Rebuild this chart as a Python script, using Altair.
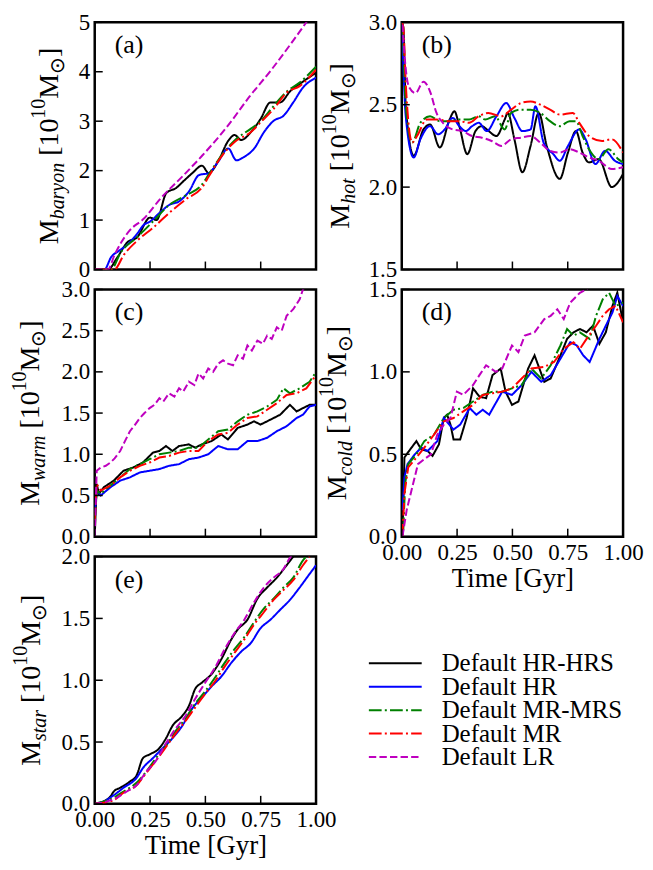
import altair as alt
import pandas as pd

FONT = "Liberation Serif"
SERIES = ["Default HR-HRS", "Default HR", "Default MR-MRS", "Default MR", "Default LR"]
COLORS = ["#000000", "#0000ff", "#008000", "#ff0000", "#bf00bf"]
DASHES = [[1, 0], [1, 0], [12.8, 3.2, 2, 3.2], [12.8, 3.2, 2, 3.2], [7.4, 3.2]]
XTICKS = [0.0, 0.25, 0.5, 0.75, 1.0]

# ---------------- (a) M_baryon ----------------
a_hrhrs_t = [0, 0.059, 0.103, 0.147, 0.191, 0.25, 0.279, 0.324, 0.368, 0.404, 0.441, 0.485, 0.515, 0.559, 0.603, 0.632, 0.662, 0.706, 0.75, 0.794, 0.838, 0.882, 0.941, 1.0]
a_hrhrs_v = [0, 0, 0.25, 0.55, 0.65, 1.05, 1.0, 1.55, 1.65, 1.8, 1.95, 2.1, 1.95, 2.2, 2.6, 2.72, 2.62, 2.78, 3.05, 3.38, 3.38, 3.6, 3.8, 3.98]
a_hr_t = [0, 0.044, 0.074, 0.110, 0.147, 0.191, 0.221, 0.25, 0.294, 0.338, 0.382, 0.426, 0.471, 0.515, 0.559, 0.603, 0.640, 0.676, 0.721, 0.765, 0.809, 0.853, 0.897, 0.941, 1.0]
a_hr_v = [0, 0, 0.25, 0.38, 0.5, 0.72, 0.9, 0.97, 1.15, 1.31, 1.38, 1.58, 1.91, 1.95, 2.19, 2.45, 2.21, 2.28, 2.45, 2.78, 3.01, 3.11, 3.38, 3.68, 3.88]
a_mrmrs_t = [0, 0.074, 0.118, 0.191, 0.265, 0.338, 0.412, 0.485, 0.515, 0.559, 0.632, 0.706, 0.75, 0.809, 0.868, 0.926, 1.0]
a_mrmrs_v = [0, 0, 0.35, 0.65, 0.98, 1.31, 1.5, 1.72, 1.92, 2.22, 2.61, 2.85, 3.0, 3.31, 3.6, 3.78, 4.1]
a_mr_t = [0, 0.088, 0.132, 0.191, 0.265, 0.338, 0.412, 0.485, 0.515, 0.559, 0.632, 0.706, 0.75, 0.809, 0.868, 0.926, 1.0]
a_mr_v = [0, 0, 0.3, 0.58, 0.85, 1.15, 1.42, 1.66, 1.88, 2.2, 2.58, 2.78, 2.98, 3.25, 3.58, 3.71, 4.04]
a_lr_t = [0, 0.06, 0.09, 0.12, 0.16, 0.22, 0.3, 0.4, 0.485, 0.6, 0.7, 0.8, 0.9, 0.956, 1.0]
a_lr_v = [0, 0, 0.3, 0.55, 0.8, 1.02, 1.45, 1.9, 2.3, 2.9, 3.5, 4.05, 4.65, 5.0, 5.3]

# ---------------- (b) M_hot ----------------
b_hrhrs_t = [0, 0.007, 0.018, 0.054, 0.098, 0.128, 0.172, 0.216, 0.238, 0.26, 0.296, 0.333, 0.362, 0.384, 0.428, 0.465, 0.479, 0.509, 0.545, 0.582, 0.619, 0.655, 0.714, 0.751, 0.787, 0.817, 0.846, 0.89, 0.949, 1.0]
b_hrhrs_v = [3.0, 2.97, 2.49, 2.19, 2.35, 2.38, 2.24, 2.41, 2.46, 2.37, 2.2, 2.34, 2.37, 2.35, 2.31, 2.41, 2.45, 2.29, 2.09, 2.25, 2.45, 2.25, 2.05, 2.21, 2.34, 2.21, 2.15, 2.17, 2.0, 2.08]
b_hr_t = [0, 0.003, 0.018, 0.054, 0.084, 0.128, 0.164, 0.194, 0.23, 0.26, 0.289, 0.318, 0.348, 0.384, 0.428, 0.472, 0.509, 0.545, 0.582, 0.604, 0.641, 0.685, 0.714, 0.751, 0.802, 0.831, 0.875, 0.919, 0.963, 1.0]
b_hr_v = [3.0, 2.89, 2.43, 2.18, 2.29, 2.37, 2.32, 2.35, 2.42, 2.37, 2.34, 2.37, 2.39, 2.34, 2.43, 2.51, 2.42, 2.34, 2.35, 2.49, 2.27, 2.2, 2.16, 2.25, 2.35, 2.29, 2.14, 2.22, 2.16, 2.14]
b_mrmrs_t = [0, 0.003, 0.018, 0.047, 0.084, 0.128, 0.172, 0.216, 0.26, 0.304, 0.348, 0.377, 0.421, 0.465, 0.494, 0.538, 0.582, 0.626, 0.67, 0.714, 0.758, 0.787, 0.817, 0.846, 0.89, 0.934, 0.978, 1.0]
b_mrmrs_v = [3.0, 2.97, 2.49, 2.27, 2.39, 2.43, 2.4, 2.4, 2.41, 2.41, 2.43, 2.41, 2.43, 2.35, 2.45, 2.47, 2.47, 2.45, 2.4, 2.37, 2.4, 2.4, 2.31, 2.23, 2.17, 2.23, 2.17, 2.15]
b_mr_t = [0, 0.007, 0.018, 0.047, 0.069, 0.113, 0.157, 0.216, 0.26, 0.304, 0.348, 0.391, 0.45, 0.494, 0.538, 0.582, 0.626, 0.67, 0.714, 0.773, 0.802, 0.846, 0.905, 0.949, 1.0]
b_mr_v = [3.0, 2.97, 2.63, 2.27, 2.31, 2.41, 2.41, 2.4, 2.4, 2.39, 2.43, 2.45, 2.43, 2.47, 2.51, 2.52, 2.5, 2.47, 2.44, 2.45, 2.39, 2.31, 2.28, 2.29, 2.21]
b_lr_t = [0, 0.003, 0.013, 0.032, 0.062, 0.098, 0.128, 0.157, 0.186, 0.23, 0.274, 0.318, 0.362, 0.406, 0.45, 0.494, 0.538, 0.582, 0.626, 0.67, 0.714, 0.758, 0.802, 0.846, 0.89, 0.949, 1.0]
b_lr_v = [3.05, 2.99, 2.79, 2.61, 2.57, 2.64, 2.58, 2.45, 2.39, 2.35, 2.34, 2.31, 2.3, 2.28, 2.25, 2.29, 2.3, 2.31, 2.27, 2.22, 2.21, 2.23, 2.21, 2.18, 2.16, 2.11, 2.12]

# ---------------- (c) M_warm ----------------
c_hrhrs_t = [0, 0.009, 0.019, 0.041, 0.086, 0.13, 0.174, 0.218, 0.263, 0.292, 0.322, 0.351, 0.381, 0.425, 0.454, 0.484, 0.528, 0.572, 0.602, 0.646, 0.69, 0.72, 0.749, 0.794, 0.838, 0.882, 0.912, 0.941, 0.971, 1.0]
c_hrhrs_v = [0, 0.64, 0.52, 0.6, 0.68, 0.8, 0.84, 0.9, 1.02, 1.04, 1.1, 1.04, 1.1, 1.12, 1.08, 1.12, 1.16, 1.24, 1.18, 1.32, 1.36, 1.4, 1.36, 1.42, 1.48, 1.6, 1.52, 1.56, 1.6, 1.6]
c_hr_t = [0, 0.009, 0.027, 0.071, 0.115, 0.159, 0.204, 0.248, 0.292, 0.336, 0.381, 0.425, 0.469, 0.513, 0.558, 0.602, 0.646, 0.69, 0.735, 0.779, 0.823, 0.867, 0.912, 0.941, 0.971, 1.0]
c_hr_v = [0.3, 0.56, 0.5, 0.6, 0.68, 0.72, 0.78, 0.8, 0.82, 0.86, 0.88, 0.94, 0.96, 1.0, 1.1, 1.06, 1.06, 1.16, 1.16, 1.2, 1.28, 1.34, 1.44, 1.48, 1.58, 1.6]
c_mrmrs_t = [0, 0.009, 0.027, 0.071, 0.115, 0.159, 0.204, 0.248, 0.292, 0.336, 0.381, 0.425, 0.469, 0.513, 0.558, 0.602, 0.646, 0.69, 0.735, 0.779, 0.823, 0.853, 0.882, 0.926, 0.971, 1.0]
c_mrmrs_v = [0.2, 0.56, 0.52, 0.62, 0.72, 0.82, 0.88, 0.94, 1.0, 1.02, 1.04, 1.08, 1.08, 1.18, 1.28, 1.3, 1.4, 1.48, 1.52, 1.58, 1.66, 1.8, 1.74, 1.8, 1.88, 2.0]
c_mr_t = [0, 0.009, 0.027, 0.071, 0.115, 0.159, 0.204, 0.248, 0.292, 0.336, 0.381, 0.425, 0.469, 0.513, 0.558, 0.602, 0.646, 0.69, 0.735, 0.779, 0.823, 0.867, 0.912, 0.956, 1.0]
c_mr_v = [0.2, 0.64, 0.56, 0.62, 0.72, 0.8, 0.86, 0.9, 0.96, 0.98, 1.02, 1.04, 1.04, 1.16, 1.24, 1.26, 1.36, 1.44, 1.46, 1.54, 1.62, 1.72, 1.74, 1.8, 1.96]
c_lr_t = [0, 0.009, 0.027, 0.05, 0.071, 0.09, 0.115, 0.135, 0.159, 0.18, 0.204, 0.225, 0.248, 0.27, 0.292, 0.31, 0.336, 0.36, 0.381, 0.4, 0.425, 0.45, 0.469, 0.49, 0.513, 0.535, 0.558, 0.58, 0.602, 0.625, 0.646, 0.67, 0.69, 0.71, 0.735, 0.76, 0.779, 0.8, 0.823, 0.845, 0.867, 0.897, 0.926, 0.941, 1.0]
c_lr_v = [0, 0.8, 0.84, 0.86, 0.9, 0.95, 1.04, 1.15, 1.28, 1.35, 1.44, 1.5, 1.56, 1.6, 1.68, 1.64, 1.74, 1.7, 1.8, 1.76, 1.88, 1.84, 1.98, 1.92, 2.04, 2.0, 2.1, 2.14, 2.1, 2.08, 2.2, 2.16, 2.32, 2.26, 2.38, 2.34, 2.44, 2.4, 2.54, 2.5, 2.68, 2.76, 2.88, 3.0, 3.2]

# ---------------- (d) M_cold ----------------
d_hrhrs_t = [0.003, 0.012, 0.022, 0.044, 0.066, 0.088, 0.117, 0.139, 0.168, 0.19, 0.205, 0.22, 0.234, 0.264, 0.293, 0.322, 0.351, 0.381, 0.41, 0.447, 0.469, 0.498, 0.527, 0.571, 0.6, 0.644, 0.673, 0.717, 0.747, 0.776, 0.805, 0.835, 0.864, 0.893, 0.922, 0.952, 0.974, 1.0]
d_hrhrs_v = [0, 0.48, 0.5, 0.54, 0.58, 0.53, 0.52, 0.49, 0.56, 0.72, 0.74, 0.68, 0.59, 0.59, 0.72, 0.9, 0.85, 0.84, 0.98, 1.02, 0.88, 0.8, 0.82, 1.02, 1.1, 0.94, 0.96, 1.1, 1.2, 1.24, 1.26, 1.24, 1.28, 1.17, 1.24, 1.4, 1.48, 1.3]
d_hr_t = [0.003, 0.012, 0.026, 0.059, 0.088, 0.117, 0.161, 0.19, 0.234, 0.264, 0.307, 0.337, 0.366, 0.395, 0.454, 0.498, 0.542, 0.586, 0.63, 0.673, 0.717, 0.761, 0.791, 0.82, 0.849, 0.893, 0.922, 0.952, 0.974, 1.0]
d_hr_v = [0.16, 0.36, 0.44, 0.5, 0.54, 0.52, 0.58, 0.72, 0.65, 0.68, 0.78, 0.74, 0.77, 0.74, 0.88, 0.86, 0.92, 1.0, 0.94, 0.98, 1.08, 1.18, 1.16, 1.1, 1.06, 1.2, 1.28, 1.36, 1.46, 1.4]
d_mrmrs_t = [0.007, 0.015, 0.029, 0.066, 0.102, 0.146, 0.19, 0.234, 0.278, 0.322, 0.366, 0.41, 0.454, 0.498, 0.542, 0.586, 0.63, 0.673, 0.717, 0.747, 0.776, 0.805, 0.849, 0.878, 0.908, 0.937, 0.966, 1.0]
d_mrmrs_v = [0.04, 0.32, 0.44, 0.5, 0.58, 0.62, 0.72, 0.77, 0.78, 0.82, 0.86, 0.88, 0.88, 0.9, 0.92, 1.02, 0.96, 1.04, 1.16, 1.26, 1.22, 1.24, 1.2, 1.34, 1.44, 1.48, 1.4, 1.42]
d_mr_t = [0.003, 0.012, 0.029, 0.066, 0.102, 0.146, 0.19, 0.234, 0.278, 0.322, 0.366, 0.41, 0.454, 0.498, 0.542, 0.586, 0.644, 0.688, 0.732, 0.776, 0.805, 0.835, 0.878, 0.908, 0.937, 0.966, 1.0]
d_mr_v = [0, 0.26, 0.42, 0.48, 0.54, 0.62, 0.7, 0.72, 0.76, 0.8, 0.86, 0.87, 0.88, 0.9, 0.96, 1.02, 1.03, 1.06, 1.14, 1.18, 1.14, 1.2, 1.28, 1.34, 1.38, 1.4, 1.3]
d_lr_t = [0.003, 0.022, 0.051, 0.073, 0.102, 0.132, 0.161, 0.19, 0.22, 0.249, 0.278, 0.322, 0.351, 0.381, 0.425, 0.454, 0.498, 0.527, 0.556, 0.6, 0.644, 0.673, 0.703, 0.732, 0.761, 0.805, 0.835, 0.871]
d_lr_v = [0, 0.16, 0.32, 0.44, 0.47, 0.5, 0.62, 0.68, 0.72, 0.88, 0.86, 0.92, 0.98, 1.04, 1.0, 1.02, 1.16, 1.12, 1.22, 1.24, 1.32, 1.34, 1.38, 1.32, 1.42, 1.48, 1.5, 1.56]

# ---------------- (e) M_star ----------------
e_hrhrs_t = [0, 0.041, 0.071, 0.086, 0.115, 0.159, 0.189, 0.218, 0.248, 0.292, 0.322, 0.351, 0.395, 0.425, 0.454, 0.484, 0.528, 0.572, 0.617, 0.646, 0.69, 0.735, 0.779, 0.823, 0.867, 0.897, 0.941]
e_hrhrs_v = [0, 0.02, 0.06, 0.1, 0.13, 0.18, 0.23, 0.37, 0.4, 0.45, 0.53, 0.63, 0.71, 0.79, 0.93, 0.98, 1.05, 1.17, 1.33, 1.41, 1.49, 1.66, 1.75, 1.83, 1.93, 2.0, 2.1]
e_hr_t = [0, 0.041, 0.086, 0.13, 0.189, 0.218, 0.263, 0.307, 0.351, 0.395, 0.44, 0.484, 0.528, 0.572, 0.617, 0.661, 0.705, 0.749, 0.794, 0.838, 0.882, 0.926, 0.971, 1.0]
e_hr_v = [0, 0.02, 0.07, 0.13, 0.21, 0.29, 0.37, 0.45, 0.53, 0.63, 0.77, 0.86, 0.95, 1.03, 1.14, 1.23, 1.3, 1.42, 1.49, 1.57, 1.65, 1.75, 1.86, 1.93]
e_mrmrs_t = [0, 0.041, 0.086, 0.13, 0.189, 0.233, 0.277, 0.322, 0.366, 0.41, 0.454, 0.499, 0.543, 0.587, 0.631, 0.676, 0.72, 0.764, 0.808, 0.853, 0.897, 0.941, 0.956]
e_mrmrs_v = [0, 0.02, 0.05, 0.1, 0.17, 0.26, 0.37, 0.47, 0.59, 0.69, 0.81, 0.91, 1.02, 1.14, 1.25, 1.35, 1.47, 1.58, 1.66, 1.75, 1.83, 1.97, 2.0]
e_mr_t = [0, 0.041, 0.086, 0.13, 0.189, 0.233, 0.277, 0.322, 0.366, 0.41, 0.454, 0.499, 0.543, 0.587, 0.631, 0.676, 0.72, 0.764, 0.808, 0.853, 0.897, 0.941, 0.971]
e_mr_v = [0, 0.01, 0.03, 0.09, 0.15, 0.25, 0.35, 0.46, 0.57, 0.67, 0.78, 0.89, 0.99, 1.11, 1.22, 1.33, 1.45, 1.55, 1.65, 1.73, 1.81, 1.93, 2.0]
e_lr_t = [0, 0.056, 0.1, 0.145, 0.189, 0.233, 0.277, 0.322, 0.366, 0.41, 0.454, 0.499, 0.543, 0.587, 0.631, 0.676, 0.72, 0.764, 0.808, 0.853, 0.882, 0.897]
e_lr_v = [0, 0.02, 0.05, 0.1, 0.15, 0.26, 0.35, 0.49, 0.61, 0.71, 0.85, 0.98, 1.1, 1.25, 1.38, 1.49, 1.63, 1.75, 1.83, 1.9, 1.99, 2.02]

W, H = 222, 248
F_BIG, F_SUB = 28, 20
REG_W = {"M": 0.889, " ": 0.25, "[": 0.333, "]": 0.333, "1": 0.5, "0": 0.5, "\u2299": 0.8}
ITA_W = {"b": 0.5, "a": 0.5, "r": 0.389, "y": 0.444, "o": 0.5, "n": 0.5, "h": 0.5,
         "t": 0.278, "w": 0.667, "m": 0.722, "c": 0.444, "l": 0.278, "d": 0.5, "s": 0.389}
ONE = alt.Data(values=[{}])


def text_w(s, size, italic=False):
    tab = ITA_W if italic else REG_W
    return sum(tab.get(ch, 0.5) for ch in s) * size


def ytitle_layers(sub, xoff):
    # (text, size, italic, baseline shift, extra gap before)
    pieces = [("M", F_BIG, False, 0, 0), (sub, F_SUB, True, 6, 0), ("[10", F_BIG, False, 0, 0.25 * F_BIG),
              ("10", F_SUB, False, -13, 0), ("M", F_BIG, False, 0, 0), ("\u2299", F_SUB, False, 6, 0),
              ("]", F_BIG, False, 0, 1)]
    total = sum(text_w(p[0], p[1], p[2]) + p[4] for p in pieces)
    y0 = H / 2 + total / 2
    layers = []
    off = 0.0
    for txt, size, ital, dy, gap in pieces:
        off += gap
        layers.append(
            alt.Chart(ONE).mark_text(
                text=txt, angle=270, align="left", baseline="alphabetic", font=FONT,
                fontSize=size, fontStyle="italic" if ital else "normal", color="black",
                dx=off, dy=dy,
            ).encode(x=alt.value(xoff), y=alt.value(y0))
        )
        off += text_w(txt, size, ital)
    return layers


def panel(series, ydom, yvals, yfmt, label, sub, xoff, interp, xlabels):
    rows = []
    for name, (ts, vs) in zip(SERIES, series):
        for t, v in zip(ts, vs):
            rows.append({"t": t, "v": v, "s": name})
    df = pd.DataFrame(rows)
    xs = alt.Scale(domain=[0, 1], nice=False, zero=False)
    ys = alt.Scale(domain=ydom, nice=False, zero=False)
    if xlabels:
        xaxis = alt.Axis(values=XTICKS, format=".2f", labels=True, title="Time [Gyr]",
                         labelFlush=False, labelOverlap=False, labelPadding=5, titlePadding=1)
    else:
        xaxis = alt.Axis(values=XTICKS, labels=False, title=None)
    yaxis = alt.Axis(values=yvals, format=yfmt, title=None, labelOverlap=False, labelPadding=5)

    lines = alt.Chart(df).mark_line(strokeWidth=2, clip=True, interpolate=interp).encode(
        x=alt.X("t:Q", scale=xs, axis=xaxis),
        y=alt.Y("v:Q", scale=ys, axis=yaxis),
        color=alt.Color("s:N", scale=alt.Scale(domain=SERIES, range=COLORS), legend=None),
        strokeDash=alt.StrokeDash("s:N", scale=alt.Scale(domain=SERIES, range=DASHES), legend=None),
    )
    xt = alt.Chart(pd.DataFrame({"t": XTICKS})).mark_rule(color="black", strokeWidth=1.5).encode(
        x=alt.X("t:Q", scale=xs, axis=xaxis), y=alt.value(H), y2=alt.value(H - 8))
    yt = alt.Chart(pd.DataFrame({"v": yvals})).mark_rule(color="black", strokeWidth=1.5).encode(
        y=alt.Y("v:Q", scale=ys, axis=yaxis), x=alt.value(0), x2=alt.value(8))
    lab = alt.Chart(ONE).mark_text(text=label, align="left", baseline="middle", font=FONT,
                                   fontSize=26, color="black").encode(x=alt.value(20), y=alt.value(23))
    return alt.layer(lines, xt, yt, lab, *ytitle_layers(sub, xoff)).properties(width=W, height=H)


A = panel([(a_hrhrs_t, a_hrhrs_v), (a_hr_t, a_hr_v), (a_mrmrs_t, a_mrmrs_v), (a_mr_t, a_mr_v), (a_lr_t, a_lr_v)],
          [0, 5], [0, 1, 2, 3, 4, 5], "d", "(a)", "baryon", -37, "monotone", False)
B = panel([(b_hrhrs_t, b_hrhrs_v), (b_hr_t, b_hr_v), (b_mrmrs_t, b_mrmrs_v), (b_mr_t, b_mr_v), (b_lr_t, b_lr_v)],
          [1.5, 3.0], [1.5, 2.0, 2.5, 3.0], ".1f", "(b)", "hot", -53, "monotone", False)
C = panel([(c_hrhrs_t, c_hrhrs_v), (c_hr_t, c_hr_v), (c_mrmrs_t, c_mrmrs_v), (c_mr_t, c_mr_v), (c_lr_t, c_lr_v)],
          [0, 3], [0, 0.5, 1.0, 1.5, 2.0, 2.5, 3.0], ".1f", "(c)", "warm", -56, "linear", False)
D = panel([(d_hrhrs_t, d_hrhrs_v), (d_hr_t, d_hr_v), (d_mrmrs_t, d_mrmrs_v), (d_mr_t, d_mr_v), (d_lr_t, d_lr_v)],
          [0, 1.5], [0, 0.5, 1.0, 1.5], ".1f", "(d)", "cold", -56, "linear", True)
E = panel([(e_hrhrs_t, e_hrhrs_v), (e_hr_t, e_hr_v), (e_mrmrs_t, e_mrmrs_v), (e_mr_t, e_mr_v), (e_lr_t, e_lr_v)],
          [0, 2], [0, 0.5, 1.0, 1.5, 2.0], ".1f", "(e)", "star", -55, "monotone", True)

legdf = pd.DataFrame({"s": SERIES})
ly = alt.Y("s:N", scale=alt.Scale(type="point", domain=SERIES, range=[107, 201], padding=0), axis=None)
leg_lines = alt.Chart(legdf).mark_rule(strokeWidth=2).encode(
    x=alt.value(-33), x2=alt.value(20), y=ly,
    color=alt.Color("s:N", scale=alt.Scale(domain=SERIES, range=COLORS), legend=None),
    strokeDash=alt.StrokeDash("s:N", scale=alt.Scale(domain=SERIES, range=DASHES), legend=None),
)
leg_text = alt.Chart(legdf).mark_text(align="left", baseline="middle", font=FONT, fontSize=25, color="black").encode(
    x=alt.value(40), y=ly, text="s:N")
L = alt.layer(leg_lines, leg_text).properties(width=W, height=H, view=alt.ViewBackground(stroke="transparent"))

chart = alt.concat(A, B, C, D, E, L, columns=2, spacing={"row": 20, "column": 86}, bounds="flush").properties(
    padding={"left": 0, "top": 0, "right": 0, "bottom": 0}
).configure_view(stroke="black", strokeWidth=2.5).configure_axis(
    labelFont=FONT, labelFontSize=23, labelColor="black", titleFont=FONT, titleFontSize=27,
    titleFontWeight="normal", titleColor="black", grid=False, ticks=False, domain=False,
)

chart.save("out.html", embed_options={"renderer": "svg", "actions": False})
